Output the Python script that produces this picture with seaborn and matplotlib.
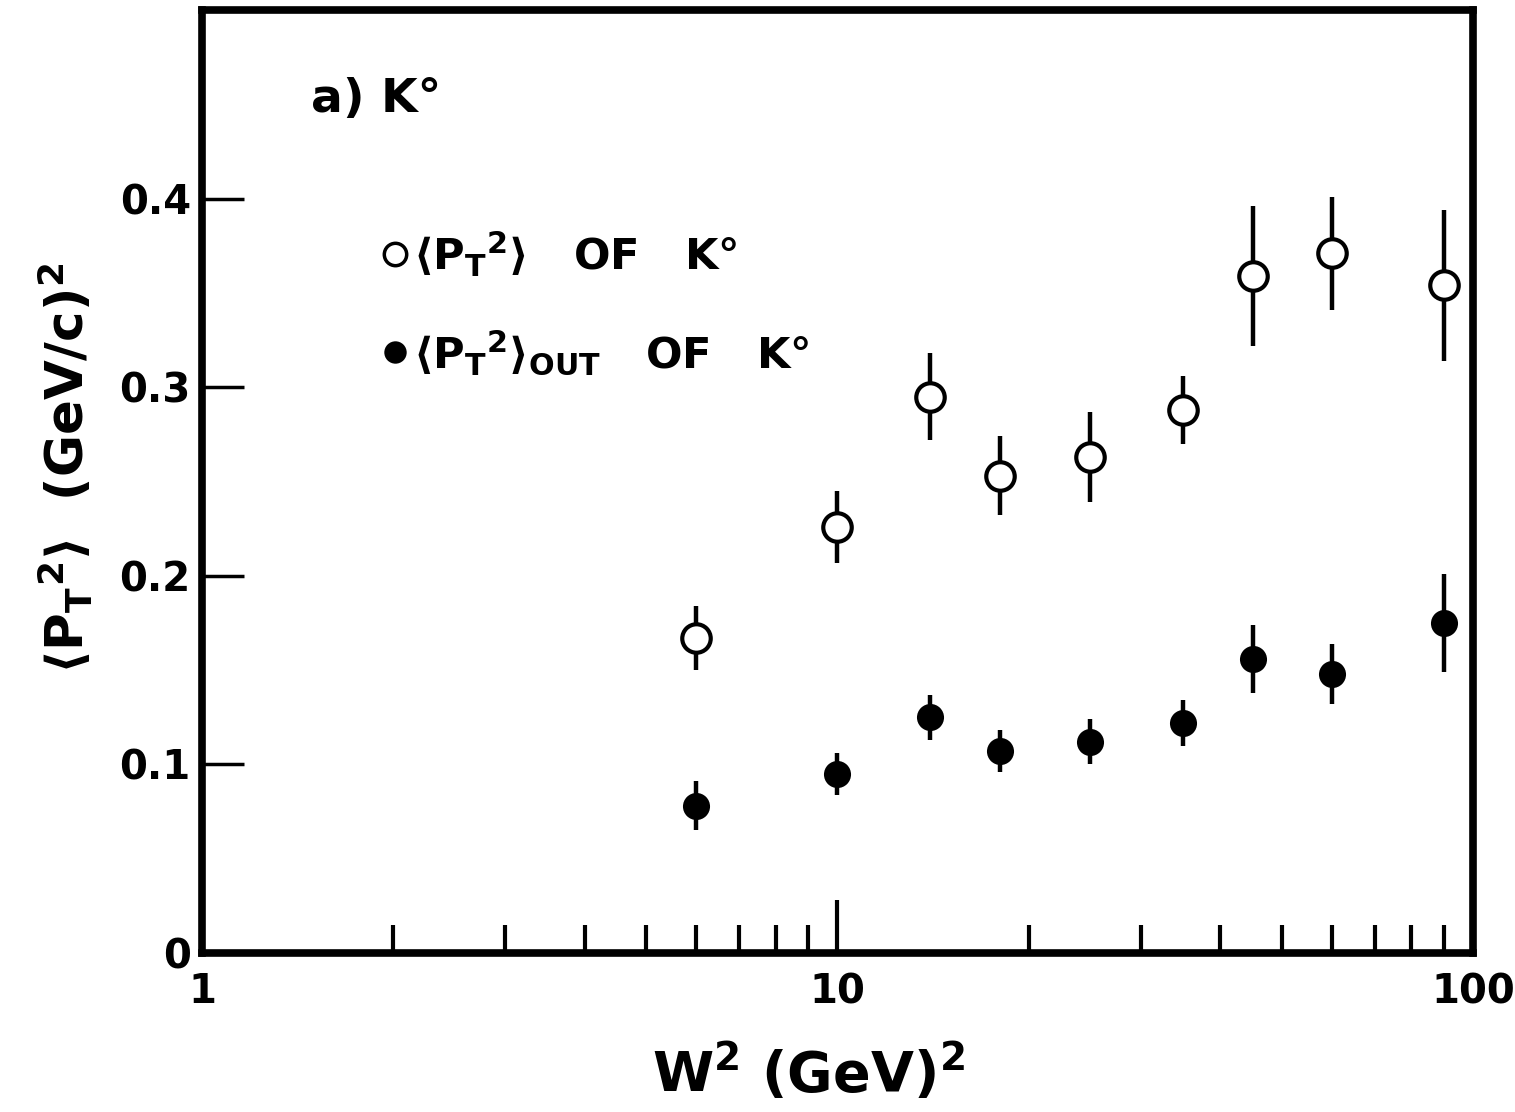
import numpy as np
import pandas as pd
import matplotlib
matplotlib.use('Agg')
import matplotlib.pyplot as plt
import seaborn as sns

# --- data ---
w2 = [6, 10, 14, 18, 25, 35, 45, 60, 90]
pt2 = [0.167, 0.226, 0.295, 0.253, 0.263, 0.288, 0.359, 0.371, 0.354]
pt2_err = [0.017, 0.019, 0.023, 0.021, 0.024, 0.018, 0.037, 0.030, 0.040]
pt2_out = [0.078, 0.095, 0.125, 0.107, 0.112, 0.122, 0.156, 0.148, 0.175]
pt2_out_err = [0.013, 0.011, 0.012, 0.011, 0.012, 0.012, 0.018, 0.016, 0.026]
y_ticks = [0, 0.1, 0.2, 0.3, 0.4]
y_tick_labels = ['0', '0.1', '0.2', '0.3', '0.4']
x_ticks = [1, 10, 100]
x_tick_labels = ['1', '10', '100']

sns.set_theme(style='white', rc={'text.color': 'black', 'axes.labelcolor': 'black',
                                 'xtick.color': 'black', 'ytick.color': 'black'})
plt.rcParams['font.family'] = ['DejaVu Sans']
plt.rcParams['font.weight'] = 'bold'
plt.rcParams['mathtext.fontset'] = 'dejavusans'
plt.rcParams['mathtext.default'] = 'bf'

df_all = pd.DataFrame({'w2': w2, 'pt2': pt2, 'err': pt2_err})
df_out = pd.DataFrame({'w2': w2, 'pt2': pt2_out, 'err': pt2_out_err})

fig = plt.figure(figsize=(15.15, 11.12), dpi=100)
ax = fig.add_axes([0.1333, 0.143, 0.839, 0.848])

# error bars
ax.errorbar(df_all['w2'], df_all['pt2'], yerr=df_all['err'], fmt='none',
            ecolor='black', elinewidth=3.2, capsize=0, zorder=2)
ax.errorbar(df_out['w2'], df_out['pt2'], yerr=df_out['err'], fmt='none',
            ecolor='black', elinewidth=3.2, capsize=0, zorder=2)

# markers
sns.scatterplot(data=df_all, x='w2', y='pt2', ax=ax, marker='o', s=420,
                facecolor='white', edgecolor='black', linewidth=3, zorder=3, legend=False)
sns.scatterplot(data=df_out, x='w2', y='pt2', ax=ax, marker='o', s=380,
                color='black', edgecolor='black', linewidth=0, zorder=3, legend=False)

ax.set_xscale('log')
ax.set_xlim(1, 100)
ax.set_ylim(0, 0.5)

for side in ['left', 'bottom', 'top', 'right']:
    ax.spines[side].set_visible(True)
    ax.spines[side].set_color('black')
    ax.spines[side].set_linewidth(5.5)

ax.set_yticks(y_ticks)
ax.set_yticklabels(y_tick_labels)
ax.set_xticks(x_ticks)
ax.set_xticklabels(x_tick_labels)
ax.xaxis.set_minor_locator(matplotlib.ticker.LogLocator(base=10, subs=np.arange(2, 10)))
ax.xaxis.set_minor_formatter(matplotlib.ticker.NullFormatter())

ax.tick_params(axis='y', which='major', direction='in', length=30, width=2.5,
               labelsize=29, pad=8, left=True, right=False)
ax.tick_params(axis='x', which='major', direction='in', length=38, width=3,
               labelsize=29, pad=14, bottom=True, top=False)
ax.tick_params(axis='x', which='minor', direction='in', length=20, width=3,
               bottom=True, top=False)
for lab in ax.get_xticklabels() + ax.get_yticklabels():
    lab.set_fontweight('bold')

ax.set_xlabel(r'W$^2$ (GeV)$^2$', fontsize=40, fontweight='bold')
ax.xaxis.set_label_coords(0.477, -0.094)
ax.set_ylabel(r'$\langle$P$_T$$^2$$\rangle$  (GeV/c)$^2$', fontsize=37,
              fontweight='bold')
ax.yaxis.set_label_coords(-0.084, 0.514)

# panel label and legend text
ax.text(0.086, 0.905, 'a) K°', transform=ax.transAxes, fontsize=34,
        fontweight='bold', va='center', ha='left')
ax.scatter([0.152], [0.741], transform=ax.transAxes, s=260, facecolor='white',
           edgecolor='black', linewidth=2.5, clip_on=False)
ax.text(0.166, 0.741, r'$\langle$P$_T$$^2$$\rangle$   OF   K°', transform=ax.transAxes,
        fontsize=31, fontweight='bold', va='center', ha='left')
ax.scatter([0.152], [0.637], transform=ax.transAxes, s=260, color='black',
           linewidth=0, clip_on=False)
ax.text(0.166, 0.637, r'$\langle$P$_T$$^2$$\rangle_{OUT}$   OF   K°', transform=ax.transAxes,
        fontsize=31, fontweight='bold', va='center', ha='left')

fig.savefig('out.png', dpi=100)
